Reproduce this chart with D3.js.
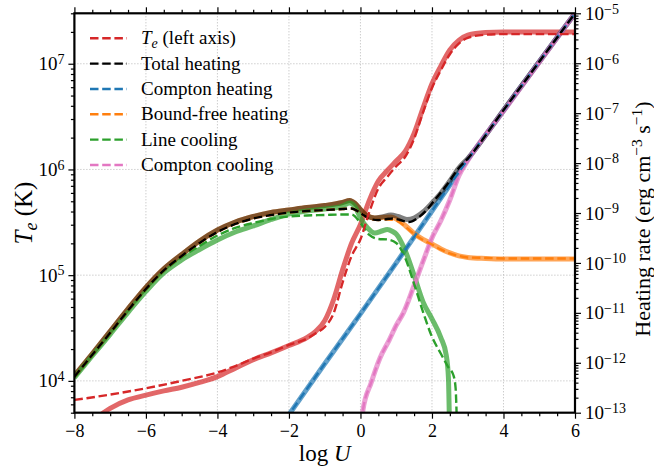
<!DOCTYPE html>
<html>
<head>
<meta charset="utf-8">
<script src="https://cdn.jsdelivr.net/npm/d3@7"></script>
<style>
body { margin: 0; background: #fff; }
text { font-family: "Liberation Serif", "DejaVu Serif", serif; fill: #000; }
</style>
</head>
<body>
<div id="chart"></div>
<script>
// [log U, log10 value]
var teSolid = [[-8,3.50],[-7.5,3.62],[-7,3.74],[-6.5,3.82],[-6,3.865],[-5.5,3.905],[-5,3.94],[-4.5,3.985],[-4,4.04],[-3.5,4.12],[-3,4.20],[-2.5,4.265],[-2,4.335],[-1.5,4.41],[-1.25,4.47],[-1,4.57],[-0.75,4.77],[-0.5,5.05],[-0.25,5.30],[0,5.48],[0.25,5.71],[0.5,5.89],[0.75,5.99],[1,6.08],[1.25,6.17],[1.5,6.34],[1.75,6.58],[2,6.81],[2.25,6.98],[2.5,7.13],[2.75,7.22],[3,7.27],[3.5,7.295],[4,7.30],[5,7.30],[6,7.30]];
var teDashed = [[-8,3.82],[-7,3.87],[-6,3.93],[-5,4.0],[-4,4.08],[-3.5,4.14],[-3,4.21],[-2.5,4.27],[-2,4.34],[-1.5,4.40],[-1.25,4.45],[-1,4.51],[-0.75,4.64],[-0.5,4.93],[-0.25,5.18],[0,5.34],[0.25,5.60],[0.5,5.82],[0.75,5.93],[1,6.03],[1.25,6.12],[1.5,6.29],[1.75,6.54],[2,6.77],[2.25,6.94],[2.5,7.09],[2.75,7.19],[3,7.245],[3.5,7.275],[4,7.28],[6,7.28]];

var totalSolid = [[-8,-12.26],[-7.5,-11.82],[-7,-11.37],[-6.5,-10.92],[-6,-10.49],[-5.5,-10.12],[-5,-9.83],[-4.5,-9.56],[-4,-9.34],[-3.5,-9.18],[-3,-9.07],[-2.5,-8.99],[-2,-8.94],[-1.5,-8.89],[-1,-8.85],[-0.5,-8.79],[-0.3,-8.75],[-0.15,-8.81],[0,-8.93],[0.2,-9.06],[0.4,-9.10],[0.6,-9.08],[0.85,-9.04],[1.05,-9.07],[1.3,-9.13],[1.5,-9.10],[1.75,-8.98],[2,-8.80],[2.25,-8.60],[2.5,-8.36],[2.75,-8.10],[3,-7.91],[4,-6.94],[5,-5.97],[6,-5.0]];
var totalDashed = [[-8,-12.28],[-7.5,-11.84],[-7,-11.40],[-6.5,-10.95],[-6,-10.52],[-5.5,-10.15],[-5,-9.86],[-4.5,-9.60],[-4,-9.38],[-3.5,-9.22],[-3,-9.11],[-2.5,-9.04],[-2,-8.99],[-1.5,-8.96],[-1,-8.94],[-0.5,-8.92],[-0.25,-8.91],[0,-9.0],[0.25,-9.11],[0.5,-9.14],[0.75,-9.12],[0.9,-9.11],[1.1,-9.14],[1.35,-9.18],[1.6,-9.10],[1.85,-8.94],[2.1,-8.72],[2.4,-8.45],[2.75,-8.10],[3,-7.91],[4,-6.94],[5,-5.97],[6,-5.0]];

var comptonHeatSolid = [[-2.1,-13.14],[-1,-12.02],[0,-11.02],[1,-10.0],[2,-8.96],[3,-7.93],[4,-6.95],[5,-5.97],[6,-5.0]];
var comptonHeatDashed = [[-2.1,-13.14],[-1,-12.02],[0,-11.02],[1,-10.0],[2,-8.96],[3,-7.93],[4,-6.95],[5,-5.97],[6,-5.0]];

var bfSolid = [[-8,-12.26],[-7.5,-11.82],[-7,-11.37],[-6.5,-10.92],[-6,-10.49],[-5.5,-10.12],[-5,-9.83],[-4.5,-9.56],[-4,-9.34],[-3.5,-9.18],[-3,-9.07],[-2.5,-8.99],[-2,-8.94],[-1.5,-8.89],[-1,-8.85],[-0.5,-8.79],[-0.3,-8.75],[-0.15,-8.81],[0,-8.93],[0.2,-9.06],[0.4,-9.10],[0.6,-9.09],[0.85,-9.08],[1.05,-9.14],[1.25,-9.25],[1.5,-9.41],[1.75,-9.53],[2,-9.62],[2.25,-9.72],[2.5,-9.80],[2.75,-9.86],[3,-9.89],[3.5,-9.91],[4,-9.92],[6,-9.92]];
var bfDashed = [[-8,-12.28],[-7.5,-11.84],[-7,-11.40],[-6.5,-10.95],[-6,-10.52],[-5.5,-10.15],[-5,-9.86],[-4.5,-9.60],[-4,-9.38],[-3.5,-9.22],[-3,-9.11],[-2.5,-9.04],[-2,-8.99],[-1.5,-8.96],[-1,-8.94],[-0.5,-8.92],[-0.25,-8.91],[0,-9.0],[0.25,-9.11],[0.5,-9.14],[0.75,-9.13],[1,-9.15],[1.25,-9.27],[1.5,-9.42],[1.75,-9.54],[2,-9.63],[2.25,-9.73],[2.5,-9.81],[2.75,-9.86],[3,-9.89],[3.5,-9.90],[4,-9.91],[6,-9.91]];

var lineCoolSolid = [[-8,-12.30],[-7.5,-11.86],[-7,-11.43],[-6.5,-10.99],[-6,-10.57],[-5.5,-10.20],[-5,-9.94],[-4.5,-9.73],[-4,-9.54],[-3.5,-9.38],[-3,-9.26],[-2.5,-9.13],[-2,-9.02],[-1.5,-8.96],[-1,-8.92],[-0.5,-8.86],[-0.3,-8.80],[-0.15,-8.88],[0,-9.10],[0.2,-9.30],[0.4,-9.40],[0.6,-9.36],[0.75,-9.33],[0.9,-9.37],[1,-9.42],[1.25,-9.75],[1.5,-10.25],[1.75,-10.78],[2,-11.12],[2.25,-11.50],[2.4,-11.85],[2.46,-12.30],[2.49,-13.30]];
var lineCoolDashed = [[-8,-12.30],[-7.5,-11.86],[-7,-11.42],[-6.5,-10.97],[-6,-10.54],[-5.5,-10.17],[-5,-9.89],[-4.5,-9.66],[-4,-9.45],[-3.5,-9.30],[-3,-9.20],[-2.5,-9.12],[-2,-9.07],[-1.5,-9.05],[-1,-9.04],[-0.5,-9.03],[-0.25,-9.03],[0,-9.20],[0.25,-9.44],[0.5,-9.52],[0.75,-9.53],[1,-9.60],[1.25,-9.90],[1.5,-10.42],[1.75,-10.98],[2,-11.48],[2.25,-11.82],[2.45,-12.08],[2.6,-12.25],[2.66,-12.50],[2.70,-13.30]];

var comptonCoolSolid = [[0.03,-13.20],[0.07,-12.95],[0.3,-12.40],[0.55,-11.90],[0.8,-11.55],[1,-11.25],[1.2,-11.00],[1.5,-10.45],[1.75,-9.97],[2,-9.50],[2.25,-9.15],[2.5,-8.74],[2.75,-8.26],[3,-7.95],[4,-6.96],[5,-5.98],[6,-5.0]];
var comptonCoolDashed = [[0.03,-13.20],[0.07,-12.95],[0.3,-12.40],[0.55,-11.90],[0.8,-11.55],[1,-11.25],[1.2,-11.00],[1.5,-10.45],[1.75,-9.97],[2,-9.50],[2.25,-9.15],[2.5,-8.74],[2.75,-8.26],[3,-7.95],[4,-6.96],[5,-5.98],[6,-5.0]];

var xTicks = [-8, -6, -4, -2, 0, 2, 4, 6];
var teTicks = [4, 5, 6, 7];
var heatTicks = [-13, -12, -11, -10, -9, -8, -7, -6, -5];
var legendLabels = ['T_e', 'Total heating', 'Compton heating', 'Bound-free heating', 'Line cooling', 'Compton cooling'];

var width = 654, height = 470;
var pl = 74.4, pr = 575, pt = 13.3, pb = 412.7;

var svg = d3.select('#chart').append('svg')
    .attr('width', width)
    .attr('height', height);

var x = d3.scaleLinear().domain([-8, 6]).range([pl, pr]);
var yT = d3.scaleLog().domain([5e3, 3e7]).range([pb, pt]);
var yH = d3.scaleLog().domain([1e-13, 1e-5]).range([pb, pt]);

// grid
var grid = svg.append('g').attr('stroke', '#b0b0b0').attr('stroke-width', 0.9).attr('stroke-dasharray', '1,2');
grid.selectAll('.gx').data(xTicks).enter().append('line')
    .attr('x1', function(d){ return x(d); }).attr('x2', function(d){ return x(d); })
    .attr('y1', pt).attr('y2', pb);
grid.selectAll('.gy').data(teTicks).enter().append('line')
    .attr('x1', pl).attr('x2', pr)
    .attr('y1', function(d){ return yT(Math.pow(10, d)); })
    .attr('y2', function(d){ return yT(Math.pow(10, d)); });

svg.append('clipPath').attr('id', 'clip')
    .append('rect').attr('x', pl).attr('y', pt).attr('width', pr - pl).attr('height', pb - pt);

var plot = svg.append('g').attr('clip-path', 'url(#clip)');

function lineFor(scale){
    return d3.line()
        .x(function(d){ return x(d[0]); })
        .y(function(d){ return scale(Math.pow(10, d[1])); })
        .curve(d3.curveMonotoneX);
}

var series = [
    {solid: teSolid, dashed: teDashed, color: '#d62728', scale: yT, alpha: 0.7},
    {solid: totalSolid, dashed: totalDashed, color: '#000000', scale: yH, alpha: 0.5},
    {solid: comptonHeatSolid, dashed: comptonHeatDashed, color: '#1f77b4', scale: yH, alpha: 0.7},
    {solid: bfSolid, dashed: bfDashed, color: '#ff7f0e', scale: yH, alpha: 0.7},
    {solid: lineCoolSolid, dashed: lineCoolDashed, color: '#2ca02c', scale: yH, alpha: 0.7},
    {solid: comptonCoolSolid, dashed: comptonCoolDashed, color: '#e377c2', scale: yH, alpha: 0.7}
];

// the grey total band sits over the orange one, giving the brown tint
[0, 2, 3, 1, 4, 5].forEach(function(k){
    var s = series[k];
    plot.append('path')
        .attr('d', lineFor(s.scale)(s.solid))
        .attr('fill', 'none')
        .attr('stroke', s.color)
        .attr('stroke-opacity', s.alpha)
        .attr('stroke-width', 5);
});
series.slice().reverse().forEach(function(s){
    plot.append('path')
        .attr('d', lineFor(s.scale)(s.dashed))
        .attr('fill', 'none')
        .attr('stroke', s.color)
        .attr('stroke-width', 2.4)
        .attr('stroke-dasharray', '8.5,3.7');
});

// axes
function minorLog(lo, hi){
    var out = [];
    for (var e = lo; e < hi; e++) for (var m = 2; m < 10; m++) out.push(m * Math.pow(10, e));
    return out;
}
var xMinor = d3.range(-8, 6.01, 0.5).filter(function(d){ return d % 2 !== 0; });

function styleAxis(g){
    g.attr('font-family', null).attr('font-size', null);
    g.select('.domain').remove();
    g.selectAll('line').attr('stroke', '#000').attr('stroke-width', 1.2);
}

svg.append('g').attr('transform', 'translate(0,' + pb + ')')
    .call(d3.axisBottom(x).tickValues(xMinor).tickSize(3.5).tickFormat(''))
    .call(styleAxis);
svg.append('g').attr('transform', 'translate(0,' + pb + ')')
    .call(d3.axisBottom(x).tickValues(xTicks).tickSize(6).tickPadding(6)
        .tickFormat(function(d){ return d < 0 ? '\u2212' + (-d) : d; }))
    .call(styleAxis)
    .selectAll('text').attr('font-size', 18);
svg.append('g').attr('transform', 'translate(0,' + pt + ')')
    .call(d3.axisTop(x).tickValues(xMinor).tickSize(3.5).tickFormat(''))
    .call(styleAxis);
svg.append('g').attr('transform', 'translate(0,' + pt + ')')
    .call(d3.axisTop(x).tickValues(xTicks).tickSize(6).tickFormat(''))
    .call(styleAxis);

function powLabel(sel, exps, anchor){
    sel.selectAll('text').each(function(d, i){
        var t = d3.select(this).text('').attr('text-anchor', anchor)
            .attr('font-size', 19).attr('dy', '0.32em');
        t.append('tspan').text('10');
        var e = exps[i];
        t.append('tspan').attr('dy', '-0.45em').attr('font-size', 14).text(e < 0 ? '\u2212' + (-e) : e);
    });
}

svg.append('g').attr('transform', 'translate(' + pl + ',0)')
    .call(d3.axisLeft(yT).tickValues(minorLog(3, 8).filter(function(d){ return d >= 5e3 && d <= 3e7; })).tickSize(3.5).tickFormat(''))
    .call(styleAxis);
svg.append('g').attr('transform', 'translate(' + pl + ',0)')
    .call(d3.axisLeft(yT).tickValues(teTicks.map(function(d){ return Math.pow(10, d); })).tickSize(6).tickPadding(4))
    .call(styleAxis)
    .call(powLabel, teTicks, 'end');

svg.append('g').attr('transform', 'translate(' + pr + ',0)')
    .call(d3.axisRight(yH).tickValues(minorLog(-13, -5)).tickSize(3.5).tickFormat(''))
    .call(styleAxis);
svg.append('g').attr('transform', 'translate(' + pr + ',0)')
    .call(d3.axisRight(yH).tickValues(heatTicks.map(function(d){ return Math.pow(10, d); })).tickSize(6).tickPadding(4))
    .call(styleAxis)
    .call(powLabel, heatTicks, 'start');

// frame
svg.append('rect')
    .attr('x', pl).attr('y', pt)
    .attr('width', pr - pl).attr('height', pb - pt)
    .attr('fill', 'none').attr('stroke', '#000').attr('stroke-width', 2.2);

// axis titles
var xl = svg.append('text').attr('x', (pl + pr) / 2).attr('y', 461)
    .attr('text-anchor', 'middle').attr('font-size', 23);
xl.append('tspan').text('log ');
xl.append('tspan').attr('font-style', 'italic').text('U');

var tl = svg.append('text').attr('transform', 'translate(32,' + ((pt + pb) / 2) + ') rotate(-90)')
    .attr('text-anchor', 'middle').attr('font-size', 25);
tl.append('tspan').attr('font-style', 'italic').text('T');
tl.append('tspan').attr('font-style', 'italic').attr('font-size', 18).attr('dy', 5).text('e');
tl.append('tspan').attr('dy', -5).text(' (K)');

var hl = svg.append('text').attr('transform', 'translate(650,219) rotate(-90)')
    .attr('text-anchor', 'middle').attr('font-size', 22);
hl.append('tspan').text('Heating rate (erg cm');
hl.append('tspan').attr('font-size', 15.5).attr('dy', -8).text('\u22123');
hl.append('tspan').attr('dy', 8).text(' s');
hl.append('tspan').attr('font-size', 15.5).attr('dy', -8).text('\u22121');
hl.append('tspan').attr('dy', 8).text(')');

// legend
var legend = svg.append('g');
var rowY = d3.scaleLinear().domain([0, 5]).range([38.3, 165]);
series.forEach(function(s, i){
    var yy = rowY(i);
    legend.append('line')
        .attr('x1', 90).attr('x2', 127).attr('y1', yy).attr('y2', yy)
        .attr('stroke', s.color).attr('stroke-width', 2.4).attr('stroke-dasharray', '8.5,3.7');
    var t = legend.append('text').attr('x', 141).attr('y', yy + 6).attr('font-size', 19);
    if (i === 0) {
        t.append('tspan').attr('font-style', 'italic').text('T');
        t.append('tspan').attr('font-style', 'italic').attr('font-size', 14).attr('dy', 4).text('e');
        t.append('tspan').attr('dy', -4).text(' (left axis)');
    } else {
        t.text(legendLabels[i]);
    }
});
</script>
</body>
</html>
